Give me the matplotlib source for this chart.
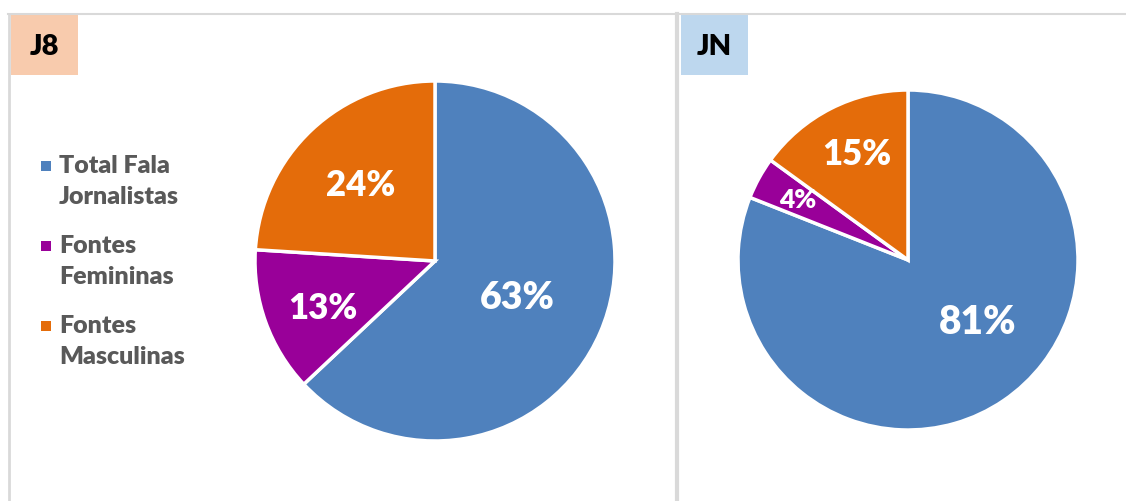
import numpy as np
import matplotlib.pyplot as plt
from matplotlib.patches import Rectangle
from matplotlib.lines import Line2D

plt.rcParams['font.family'] = ['Lato', 'DejaVu Sans']

# Dados
categorias = ['Total Fala\nJornalistas', 'Fontes\nFemininas', 'Fontes\nMasculinas']
valores_j8 = [63, 13, 24]
valores_jn = [81, 4, 15]
cores = ['#4F81BD', '#990099', '#E46C0A']

W, H = 1126, 501
fig = plt.figure(figsize=(W / 100, H / 100), dpi=100)


def caixa(x0, y0, x1, y1):
    # pixel box (top-left origin) -> figure fraction
    return [x0 / W, 1 - y1 / H, (x1 - x0) / W, (y1 - y0) / H]


def pizza(cx, cy, r, valores, rotulos):
    ax = fig.add_axes(caixa(cx - r, cy - r, cx + r, cy + r))
    wedges, _ = ax.pie(valores, colors=cores, startangle=90, counterclock=False,
                       radius=1, wedgeprops=dict(edgecolor='white', linewidth=2.5))
    # rótulos (distância relativa, ângulo em graus, tamanho da fonte)
    for v, (d, ang, fs) in zip(valores, rotulos):
        a = np.deg2rad(ang)
        ax.text(d * np.cos(a), d * np.sin(a), f'{v}%', ha='center', va='center',
                color='white', fontsize=fs, fontweight='heavy')
    ax.set_xlim(-1, 1)
    ax.set_ylim(-1, 1)
    ax.set_aspect('equal')
    ax.axis('off')
    return ax


pizza(435, 261, 180, valores_j8, [(0.50, -24, 27), (0.68, 203, 25), (0.59, 134.6, 25)])
pizza(908, 260, 170, valores_jn, [(0.55, -42, 28), (0.74, 151.6, 19), (0.69, 116, 25)])

# Bordas dos painéis
cinza = '#D9D9D9'
fig.add_artist(Line2D([8 / W, 1], [1 - 14 / H, 1 - 14 / H], color=cinza, lw=1.5))
fig.add_artist(Line2D([9 / W, 9 / W], [0, 1 - 14 / H], color=cinza, lw=2))
fig.add_artist(Line2D([677 / W, 677 / W], [0, 1 - 14 / H], color=cinza, lw=3))

# Títulos
for txt, cor, (x0, x1) in [('J8', '#F8CBAD', (11, 78)), ('JN', '#BDD7EE', (681, 748))]:
    fig.add_artist(Rectangle((x0 / W, 1 - 75 / H), (x1 - x0) / W, 60 / H,
                             transform=fig.transFigure, facecolor=cor, edgecolor='none'))
    fig.text((x0 + x1) / 2 / W, 1 - 47 / H, txt, ha='center', va='center',
             fontsize=21, fontweight='heavy', color='black')

# Legenda
for i, (cat, cor) in enumerate(zip(categorias, cores)):
    y = 165.5 + i * 80
    fig.add_artist(Rectangle((40.5 / W, 1 - (y + 5) / H), 10 / W, 10 / H,
                             transform=fig.transFigure, facecolor=cor, edgecolor='none'))
    fig.text(59 / W, 1 - (y + 16) / H, cat, ha='left', va='center', fontsize=18,
             fontweight='heavy', color='#595959', linespacing=1.47)

fig.savefig('out.png', dpi=100)
